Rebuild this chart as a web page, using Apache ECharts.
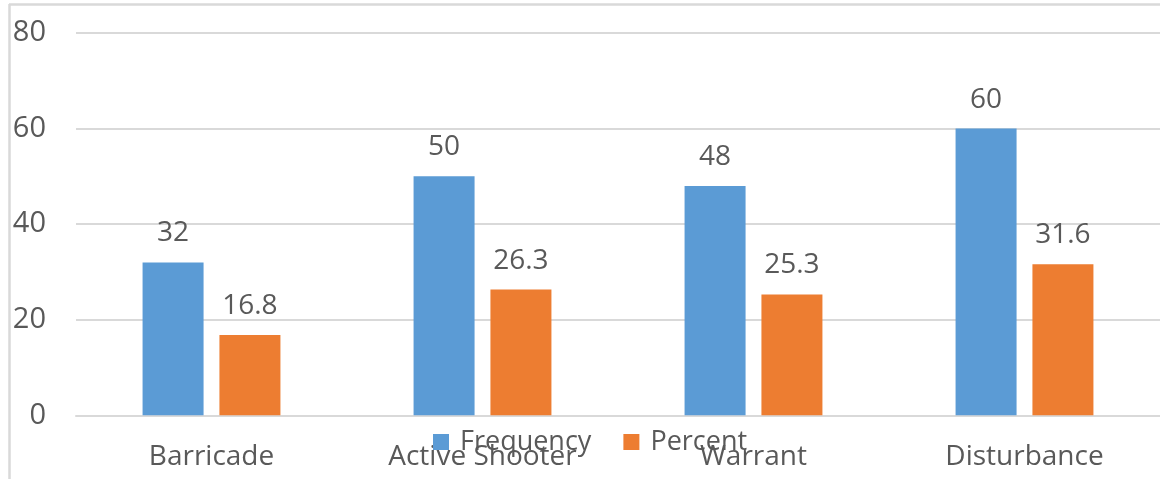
<!DOCTYPE html>
<html><head><meta charset="utf-8">
<script src="https://cdn.jsdelivr.net/npm/echarts@6/dist/echarts.min.js"></script>
<style>html,body{margin:0;padding:0;background:#fff;}#c{width:1160px;height:479px;}</style>
</head><body><div id="c"></div>
<script>
const categories = ['Barricade', 'Active Shooter', 'Warrant', 'Disturbance'];
const frequency = [32, 50, 48, 60];
const percent = [16.8, 26.3, 25.3, 31.6];
const yTicks = { min: 0, max: 80, interval: 20 };

const FONT = '"Open Sans", sans-serif';
const TXT = '#595959';
const chart = echarts.init(document.getElementById('c'), null, { renderer: 'canvas' });
const labelStyle = { show: true, position: 'top', distance: 14, color: TXT, fontSize: 28, fontFamily: FONT, lineHeight: 30 };
chart.setOption({
  animation: false,
  backgroundColor: '#fff',
  graphic: [
    { type: 'line', shape: { x1: 9.5, y1: 4, x2: 9.5, y2: 479 }, style: { stroke: '#d9d9d9', lineWidth: 2.5 } },
    { type: 'line', shape: { x1: 9, y1: 4.5, x2: 1160, y2: 4.5 }, style: { stroke: '#d9d9d9', lineWidth: 2.5 } }
  ],
  grid: { left: 76, right: 0, top: 33, bottom: 63.7, containLabel: false },
  legend: {
    data: ['Frequency', 'Percent'],
    left: 428, top: 422,
    itemWidth: 16, itemHeight: 16, itemGap: 32,
    icon: 'rect',
    textStyle: { color: TXT, fontSize: 27, fontFamily: FONT, lineHeight: 30, padding: [0, 0, 0, 6] }
  },
  xAxis: {
    type: 'category', data: categories,
    axisLine: { show: true, lineStyle: { color: '#d9d9d9', width: 2 } },
    axisTick: { show: false },
    axisLabel: { color: TXT, fontSize: 28, fontFamily: FONT, margin: 27, lineHeight: 30, interval: 0 }
  },
  yAxis: {
    type: 'value', min: yTicks.min, max: yTicks.max, interval: yTicks.interval,
    axisLine: { show: false }, axisTick: { show: false },
    splitLine: { lineStyle: { color: '#d9d9d9', width: 2 } },
    axisLabel: { color: TXT, fontSize: 29, fontFamily: FONT, margin: 30 }
  },
  series: [
    { name: 'Frequency', type: 'bar', data: frequency, barWidth: 61, barGap: '26%', itemStyle: { color: '#5B9BD5' }, label: labelStyle },
    { name: 'Percent', type: 'bar', data: percent, barWidth: 61, itemStyle: { color: '#ED7D31' }, label: labelStyle }
  ]
});
</script></body></html>
